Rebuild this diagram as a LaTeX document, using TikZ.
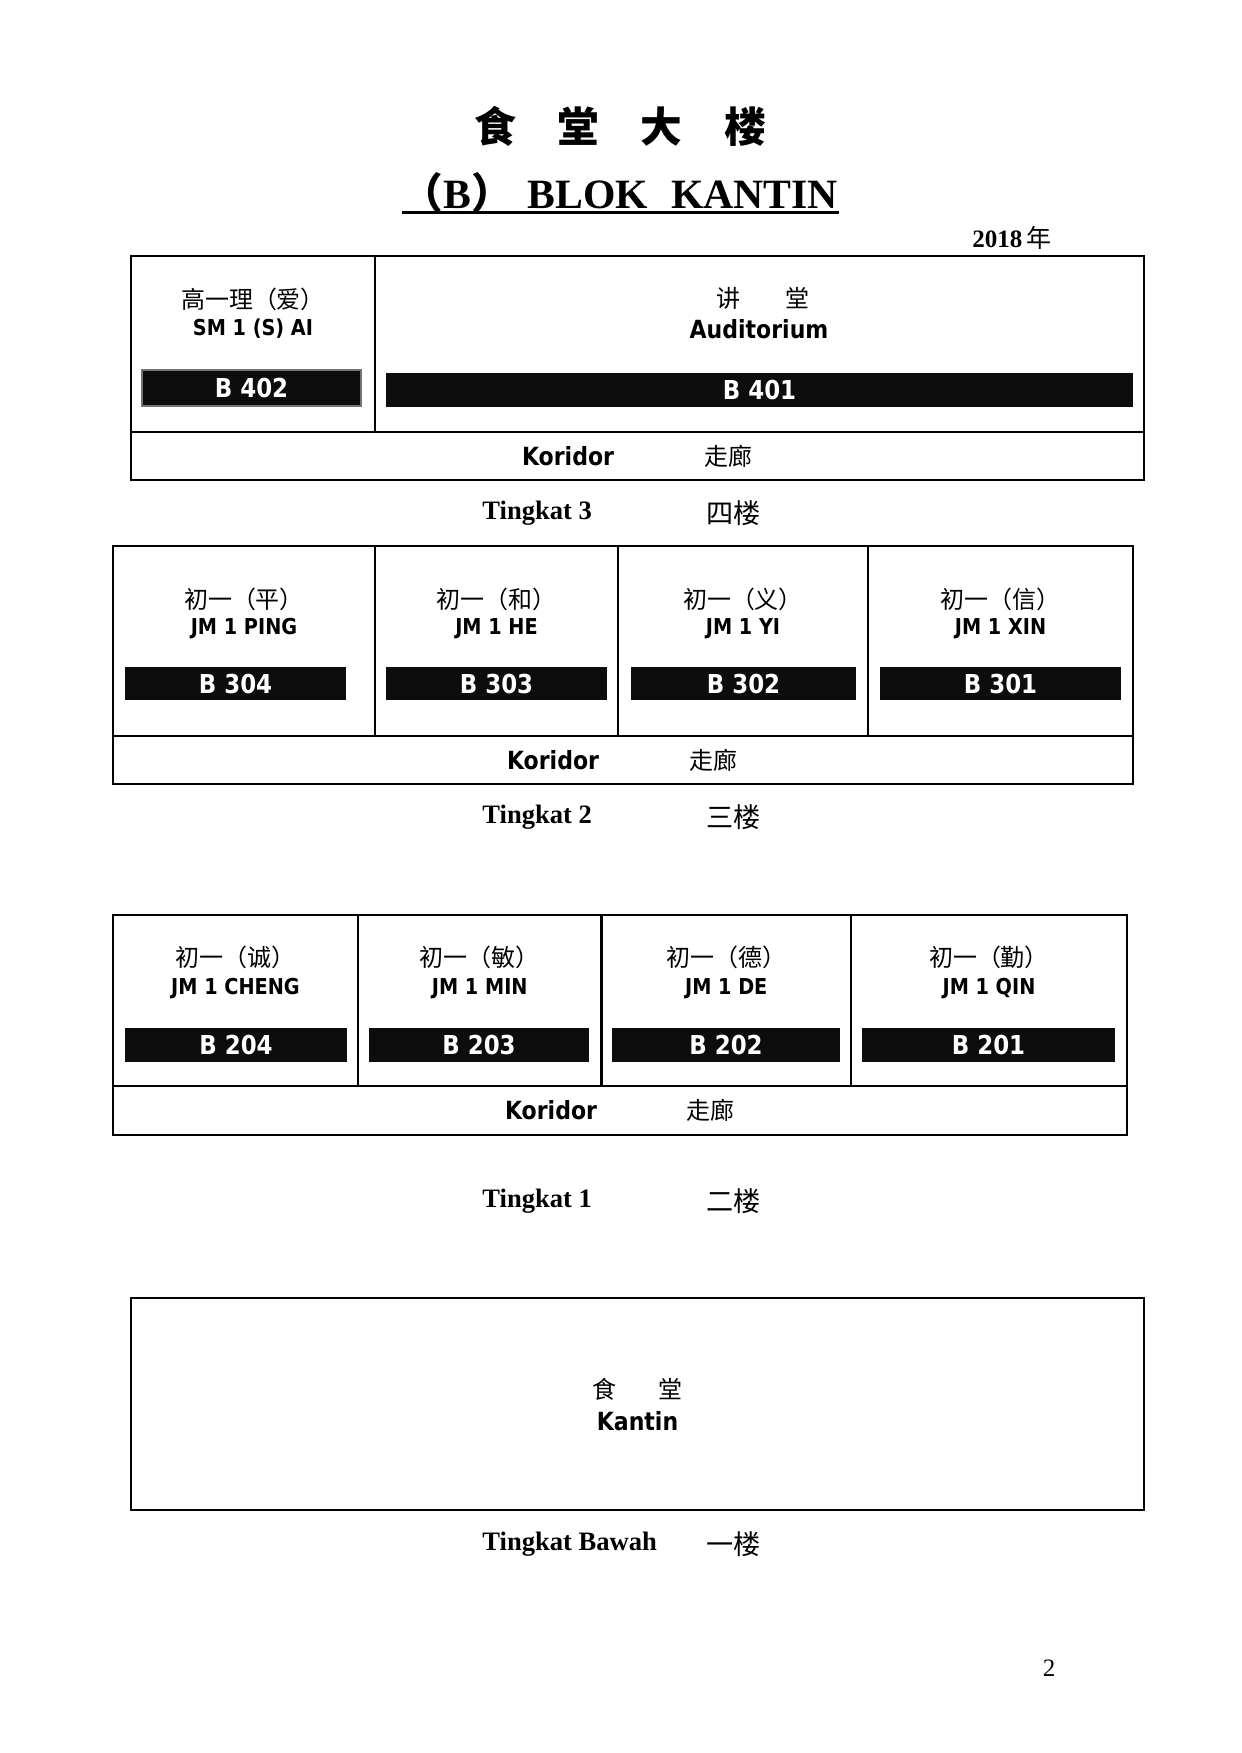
\documentclass[tikz,border=0pt]{standalone}
\usepackage{fontspec}
\setmainfont{Liberation Serif}
\newfontfamily\cjkfont{Noto Sans CJK SC}
\newfontfamily\roomfont{DejaVu Sans}[FakeStretch=0.88]
\usetikzlibrary{positioning}
\def\pxlen{0.4795pt}

\begin{document}
\begin{tikzpicture}[x=0.4795pt,y=-0.4795pt,
  roomcell/.style={draw,line width=1pt,inner sep=0pt},
  roombar/.style={fill=black!95,text=white,inner sep=0pt,font=\roomfont\bfseries\fontsize{12.5}{14}\selectfont},
  classcn/.style={inner sep=0pt,font=\cjkfont\fontsize{11.5}{13}\selectfont},
  classlat/.style={inner sep=0pt,font=\roomfont\bfseries\fontsize{10.5}{12}\selectfont},
  corridor/.style={inner sep=0pt,font=\roomfont\bfseries\fontsize{12}{14}\selectfont},
  corridorcn/.style={inner sep=0pt,font=\cjkfont\fontsize{11.5}{13}\selectfont},
  floorlat/.style={anchor=west,inner sep=0pt,font=\bfseries\fontsize{12.75}{15}\selectfont},
  floorcn/.style={anchor=west,inner sep=0pt,font=\cjkfont\fontsize{13}{15}\selectfont}]
\useasboundingbox[fill=white] (0,0) rectangle (1241,1753);

% heading
\node[inner sep=0pt,font=\cjkfont\bfseries\fontsize{20}{24}\selectfont] (title_cn) at (620,126) {食\hspace{20pt}堂\hspace{20pt}大\hspace{20pt}楼};
\node[inner sep=0pt,anchor=base,font=\bfseries\fontsize{20}{24}\selectfont] (title_lat) at (620,208) {{\cjkfont （}B{\cjkfont ）}\hspace{7pt}BLOK\hspace{11pt}KANTIN};
\draw[line width=1.4pt] ([yshift=-2.2pt]title_lat.base west) -- ([yshift=-2.2pt]title_lat.base east);
\node[inner sep=0pt,font=\bfseries\fontsize{12}{14}\selectfont] (year) at (1012,238) {2018\hspace{2pt}{\cjkfont\mdseries 年}};

% Tingkat 3
\node[roomcell,minimum width=244*\pxlen,minimum height=176*\pxlen] (cell_b402) at (253,344) {};
\node[roomcell,minimum width=769*\pxlen,minimum height=176*\pxlen] (cell_b401) at (759.5,344) {};
\node[roomcell,minimum width=1013*\pxlen,minimum height=48*\pxlen] (kor_t3) at (637.5,456) {};
\node[classcn] (cn_b402) at (253,299) {高一理（爱）};
\node[classlat] (lat_b402) at (253,329) {SM 1 (S) AI};
\node[roombar,draw=black!55,line width=0.6pt,minimum width=219*\pxlen,minimum height=36*\pxlen] (bar_b402) at (251.5,388) {B 402};
\node[classcn] (cn_b401) at (763,298) {讲\hspace{22pt}堂};
\node[corridor] (lat_b401) at (759,329) {Auditorium};
\node[roombar,minimum width=747*\pxlen,minimum height=34*\pxlen] (bar_b401) at (759.5,390) {B 401};
\node[corridor] (kor_t3_lat) at (568,456) {Koridor};
\node[corridorcn] (kor_t3_cn) at (728,456) {走廊};
\node[floorlat] (lvl_t3) at (482,513) {Tingkat 3};
\node[floorcn] (lvl_t3_cn) at (706,513) {四楼};

% Tingkat 2
\node[roomcell,minimum width=262*\pxlen,minimum height=190*\pxlen] (cell_b304) at (244,641) {};
\node[roomcell,minimum width=243*\pxlen,minimum height=190*\pxlen] (cell_b303) at (496.5,641) {};
\node[roomcell,minimum width=250*\pxlen,minimum height=190*\pxlen] (cell_b302) at (743,641) {};
\node[roomcell,minimum width=265*\pxlen,minimum height=190*\pxlen] (cell_b301) at (1000.5,641) {};
\node[roomcell,minimum width=1020*\pxlen,minimum height=48*\pxlen] (kor_t2) at (623,760) {};
\node[classcn] (cn_b304) at (244,599) {初一（平）};
\node[classlat] (lat_b304) at (244,629) {JM 1 PING};
\node[roombar,minimum width=221*\pxlen,minimum height=33*\pxlen] (bar_b304) at (235.5,683.5) {B 304};
\node[classcn] (cn_b303) at (496.5,599) {初一（和）};
\node[classlat] (lat_b303) at (496.5,629) {JM 1 HE};
\node[roombar,minimum width=221*\pxlen,minimum height=33*\pxlen] (bar_b303) at (496.5,683.5) {B 303};
\node[classcn] (cn_b302) at (743,599) {初一（义）};
\node[classlat] (lat_b302) at (743,629) {JM 1 YI};
\node[roombar,minimum width=225*\pxlen,minimum height=33*\pxlen] (bar_b302) at (743.5,683.5) {B 302};
\node[classcn] (cn_b301) at (1000.5,599) {初一（信）};
\node[classlat] (lat_b301) at (1000.5,629) {JM 1 XIN};
\node[roombar,minimum width=241*\pxlen,minimum height=33*\pxlen] (bar_b301) at (1000.5,683.5) {B 301};
\node[corridor] (kor_t2_lat) at (553,760) {Koridor};
\node[corridorcn] (kor_t2_cn) at (713,760) {走廊};
\node[floorlat] (lvl_t2) at (482,817) {Tingkat 2};
\node[floorcn] (lvl_t2_cn) at (706,817) {三楼};

% Tingkat 1
\node[roomcell,minimum width=245*\pxlen,minimum height=171*\pxlen] (cell_b204) at (235.5,1000.5) {};
\node[roomcell,minimum width=243.5*\pxlen,minimum height=171*\pxlen] (cell_b203) at (479.75,1000.5) {};
\node[roomcell,minimum width=249.5*\pxlen,minimum height=171*\pxlen] (cell_b202) at (726.25,1000.5) {};
\node[roomcell,minimum width=276*\pxlen,minimum height=171*\pxlen] (cell_b201) at (989,1000.5) {};
\node[roomcell,minimum width=1014*\pxlen,minimum height=49*\pxlen] (kor_t1) at (620,1110.5) {};
\node[classcn] (cn_b204) at (235.5,957) {初一（诚）};
\node[classlat] (lat_b204) at (235.5,989) {JM 1 CHENG};
\node[roombar,minimum width=222*\pxlen,minimum height=34*\pxlen] (bar_b204) at (236,1045) {B 204};
\node[classcn] (cn_b203) at (479.75,957) {初一（敏）};
\node[classlat] (lat_b203) at (479.75,989) {JM 1 MIN};
\node[roombar,minimum width=220*\pxlen,minimum height=34*\pxlen] (bar_b203) at (479,1045) {B 203};
\node[classcn] (cn_b202) at (726.25,957) {初一（德）};
\node[classlat] (lat_b202) at (726.25,989) {JM 1 DE};
\node[roombar,minimum width=228*\pxlen,minimum height=34*\pxlen] (bar_b202) at (726,1045) {B 202};
\node[classcn] (cn_b201) at (989,957) {初一（勤）};
\node[classlat] (lat_b201) at (989,989) {JM 1 QIN};
\node[roombar,minimum width=253*\pxlen,minimum height=34*\pxlen] (bar_b201) at (988.5,1045) {B 201};
\node[corridor] (kor_t1_lat) at (551,1110.5) {Koridor};
\node[corridorcn] (kor_t1_cn) at (710,1110.5) {走廊};
\node[floorlat] (lvl_t1) at (482,1201) {Tingkat 1};
\node[floorcn] (lvl_t1_cn) at (706,1201) {二楼};

% Tingkat Bawah
\node[roomcell,minimum width=1013*\pxlen,minimum height=212*\pxlen] (cell_kantin) at (637.5,1404) {};
\node[classcn] (cn_kantin) at (637.5,1389) {食\hspace{20pt}堂};
\node[corridor] (lat_kantin) at (637.5,1421) {Kantin};
\node[floorlat] (lvl_tb) at (482,1544) {Tingkat Bawah};
\node[floorcn] (lvl_tb_cn) at (706,1544) {一楼};

\node[inner sep=0pt,font=\fontsize{12}{14}\selectfont] (pageno) at (1049,1668) {2};
\end{tikzpicture}
\end{document}
